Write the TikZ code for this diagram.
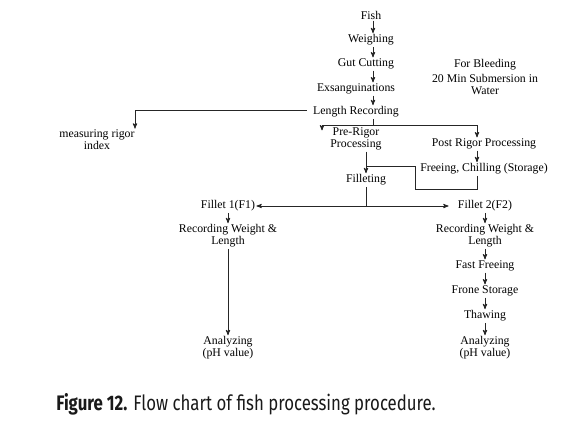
\documentclass[tikz,border=0pt]{standalone}
\usepackage{fontspec}
\setmainfont{Liberation Serif}
\newfontfamily\capfont[FakeStretch=0.8]{Fira Sans}
\usetikzlibrary{arrows}

\begin{document}
\begin{tikzpicture}[->,>=stealth',x=1pt,y=-1pt,line width=0.9pt,color=black!85,
  stage/.style={font=\fontsize{11.8}{12}\selectfont,align=center,inner sep=1pt,text=black}]
    \useasboundingbox (0,0) rectangle (565,421);
    % main chain
    \node[stage](fish) at (371,15){Fish};
    \node[stage](weigh) at (371,40){Weighing};
    \node[stage](gut) at (366,64){Gut Cutting};
    \node[stage](exsang) at (356,89){Exsanguinations};
    \node[stage](lenrec) at (356,112){Length Recording};
    \node[stage](bleed) at (485,65){For Bleeding};
    \node[stage](subm) at (485,84.5){20 Min Submersion in\\Water};
    \node[stage](rigor) at (97,140){measuring rigor\\index};
    \node[stage](pre) at (356,139){Pre-Rigor\\Processing};
    \node[stage](post) at (484,144){Post Rigor Processing};
    \node[stage](freez) at (484,169){Freeing, Chilling (Storage)};
    \node[stage](fillet) at (366,180){Filleting};
    % fillets
    \node[stage](f1) at (228,206){Fillet 1(F1)};
    \node[stage](rec1) at (228,236){Recording Weight \&\\Length};
    \node[stage](ana1) at (228,348){Analyzing\\(pH value)};
    \node[stage](f2) at (485,206){Fillet 2(F2)};
    \node[stage](rec2) at (485,236){Recording Weight \&\\Length};
    \node[stage](fast) at (485,266){Fast Freeing};
    \node[stage](frone) at (485,291){Frone Storage};
    \node[stage](thaw) at (485,316){Thawing};
    \node[stage](ana2) at (485,348){Analyzing\\(pH value)};
    \node[font=\capfont\fontsize{21}{24}\selectfont,text=black!90](caption) at (246,404)
      {\textbf{Figure 12.} Flow chart of fish processing procedure.};

    \coordinate (split) at (373,125);
    \coordinate (loopcorner) at (415,189);
    \coordinate (joint) at (366,166);
    \coordinate (fsplit) at (fillet |- f1);

    \draw (fish.south -| split) -- (weigh.north -| split);
    \draw (weigh.south -| split) -- (gut.north -| split);
    \draw (gut.south -| split) -- (exsang.north -| split);
    \draw (exsang.south -| split) -- (lenrec.north -| split);
    \draw ([xshift=-5,yshift=2]lenrec.west) -| ([xshift=38]rigor.north);
    \draw[-] (lenrec.south -| split) -- (split);
    \draw (split) -| ([xshift=-34,yshift=-4]pre.north);
    \draw (split) -| ([xshift=-7]post.north);
    \draw ([xshift=-7]post.south) -- ([xshift=-7]freez.north);
    \draw ([xshift=10]pre.south) -- (fillet.north);
    \draw[-] ([xshift=-7]freez.south) |- (loopcorner) |- (joint);
    \draw[-] (fillet) -- (fsplit);
    \draw (fsplit) -- (f1);
    \draw (fsplit) -- ([xshift=-8]f2.west);
    \draw (f1) -- (rec1);
    \draw (rec1) -- (ana1);
    \draw (f2) -- (rec2);
    \draw (rec2) -- (fast);
    \draw (fast) -- (frone);
    \draw (frone) -- (thaw);
    \draw (thaw) -- (ana2);

\end{tikzpicture}
\end{document}
